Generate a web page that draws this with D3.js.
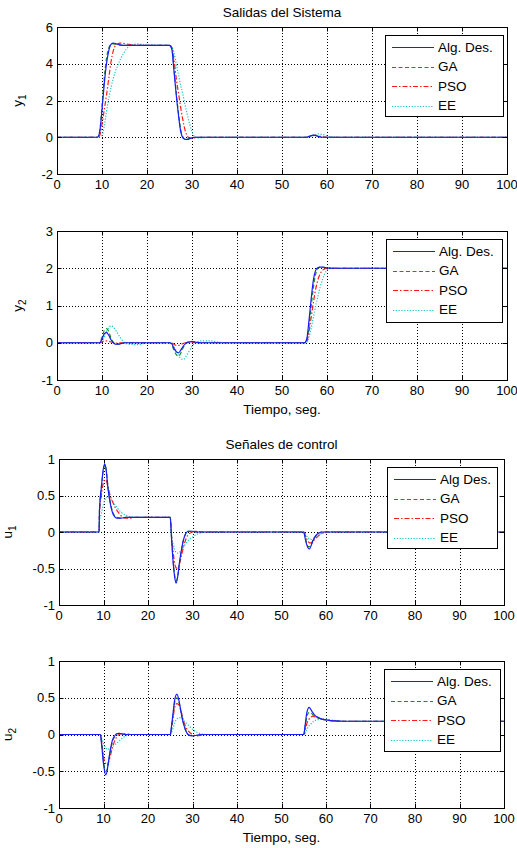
<!DOCTYPE html>
<html><head><meta charset="utf-8">
<script src="https://cdn.jsdelivr.net/npm/d3@7"></script>
<style>
html,body{margin:0;padding:0;background:#fff;}
svg{display:block;font-family:"Liberation Sans",Arial,sans-serif;}
</style></head>
<body>
<script>
// ---------- DATA ----------
const seriesNames = ["Alg. Des.", "GA", "PSO", "EE"];
const seriesNamesU1 = ["Alg Des.", "GA", "PSO", "EE"];
const xTicks = [0,10,20,30,40,50,60,70,80,90,100];
const yTicksY1 = [-2,0,2,4,6];
const yTicksY2 = [-1,0,1,2,3];
const yTicksU = [-1,-0.5,0,0.5,1];
const yTickLabelsU = ["-1","-0.5","0","0.5","1"];

// y1
const tY1 = [0,9,9.5,10,10.5,11,11.5,12,12.5,13,13.5,14,15,16,17,18,19,20,25,25.5,26,26.5,27,27.5,28,28.5,29,29.5,30,30.5,31,32,34,55.5,56,57,58,59,60,61,62,100];
const y1Alg = [0,0,0.3,1.5,2.9,4.0,4.7,5.05,5.12,5.1,5.06,5.03,5.0,5.0,5.0,5.0,5.0,5.0,5.0,4.8,3.6,2.3,1.2,0.3,-0.05,-0.12,-0.12,-0.08,-0.03,-0.01,0,0,0,0,0.05,0.12,0.05,0,0,0,0,0];
const y1GA  = [0,0,0.35,1.7,3.2,4.3,4.85,5.05,5.08,5.06,5.03,5.01,5.0,5.0,5.0,5.0,5.0,5.0,5.0,4.85,3.7,2.4,1.3,0.4,0,-0.1,-0.1,-0.06,-0.02,0,0,0,0,0,0.04,0.1,0.04,0,0,0,0,0];
const y1PSO = [0,0,0.1,0.7,1.5,2.3,3.2,4.1,4.7,5.0,5.08,5.12,5.1,5.05,5.02,5.0,5.0,5.0,5.0,4.9,4.2,3.2,2.4,1.6,0.9,0.35,0.05,-0.05,-0.05,-0.03,-0.02,0,0,0,0.03,0.1,0.08,0.03,0,0,0,0];
const y1EE  = [0,0,0.02,0.1,0.6,1.4,2.1,2.7,3.2,3.6,3.9,4.2,4.65,4.95,5.05,5.08,5.05,5.02,5.0,4.92,4.6,4.0,3.4,2.8,2.3,1.7,1.2,0.7,0.3,0.05,-0.03,-0.03,0,0,0.02,0.1,0.18,0.15,0.08,0.02,0,0];

// y2
const tY2 = [0,9.5,10,10.5,11,11.5,12,12.5,13,14,15,16,18,20,25,25.5,26,26.5,27,27.5,28,28.5,29,30,31,32,34,37,55,55.5,56,56.5,57,57.5,58,58.5,59,60,61,62,100];
const y2Alg = [0,0,0.1,0.24,0.28,0.2,0.08,0,-0.04,-0.03,0,0,0,0,0,-0.03,-0.15,-0.24,-0.27,-0.2,-0.1,-0.03,0.01,0.03,0.01,0,0,0,0,0.1,0.6,1.2,1.7,1.95,2.02,2.03,2.03,2.01,2,2,2];
const y2GA  = [0,0,0.15,0.33,0.38,0.3,0.12,0.02,-0.04,-0.04,0,0,0,0,0,-0.05,-0.2,-0.32,-0.36,-0.28,-0.14,-0.04,0.01,0.04,0.01,0,0,0,0,0.05,0.45,1.0,1.5,1.85,2.0,2.03,2.03,2.01,2,2,2];
const y2PSO = [0,0,0.02,0.05,0.05,0.04,0.02,0,-0.01,0,0,0,0,0,0,-0.01,-0.04,-0.07,-0.07,-0.05,-0.02,0,0,0.01,0,0,0,0,0,0.03,0.3,0.7,1.1,1.45,1.7,1.85,1.95,2.0,2.01,2,2];
const y2EE  = [0,0,0.05,0.15,0.3,0.4,0.45,0.42,0.34,0.15,0,-0.04,-0.05,0,0,-0.02,-0.1,-0.22,-0.34,-0.42,-0.45,-0.4,-0.3,-0.1,0.02,0.05,0.05,0,0,0.02,0.15,0.4,0.7,1.0,1.25,1.5,1.7,1.95,2.0,2.0,2];

// u1
const tU1 = [0,9,9.1,9.5,10,10.3,10.6,11,11.5,12,12.5,13,14,15,16,17,25,25.3,25.7,26,26.3,26.7,27,27.5,28,28.5,29,30,31,32,33,55,55.3,55.7,56,56.3,56.7,57,57.5,58,58.5,59,60,61,100];
const u1Alg = [0,0,0.3,0.6,0.88,0.93,0.85,0.6,0.4,0.27,0.21,0.19,0.19,0.2,0.2,0.2,0.2,-0.1,-0.45,-0.62,-0.7,-0.6,-0.45,-0.25,-0.1,-0.02,0.01,0.01,0,0,0,0,-0.08,-0.18,-0.22,-0.23,-0.18,-0.13,-0.07,-0.03,-0.01,0,0,0,0];
const u1GA  = [0,0,0.3,0.6,0.86,0.92,0.86,0.62,0.42,0.28,0.22,0.2,0.19,0.2,0.2,0.2,0.2,-0.08,-0.42,-0.6,-0.67,-0.6,-0.46,-0.26,-0.1,-0.02,0.01,0.01,0,0,0,0,-0.07,-0.16,-0.2,-0.2,-0.17,-0.12,-0.07,-0.03,-0.01,0,0,0,0];
const u1PSO = [0,0,0.25,0.5,0.68,0.72,0.71,0.62,0.5,0.42,0.35,0.3,0.22,0.19,0.19,0.2,0.2,-0.06,-0.3,-0.43,-0.49,-0.5,-0.45,-0.33,-0.2,-0.1,-0.04,0,0.01,0,0,0,-0.04,-0.1,-0.13,-0.15,-0.15,-0.13,-0.1,-0.07,-0.04,-0.02,0,0,0];
const u1EE  = [0,0,0.15,0.25,0.38,0.44,0.47,0.48,0.46,0.42,0.38,0.34,0.27,0.23,0.21,0.2,0.2,-0.05,-0.17,-0.24,-0.28,-0.29,-0.28,-0.25,-0.2,-0.16,-0.12,-0.07,-0.03,-0.01,0,0,-0.02,-0.06,-0.08,-0.1,-0.1,-0.09,-0.07,-0.05,-0.04,-0.02,-0.01,0,0];

// u2
const tU2 = [0,9.3,9.6,10,10.5,10.8,11,11.5,12,12.5,13,13.5,14,15,16,25,25.3,25.7,26,26.5,27,27.5,28,28.5,29,30,31,32,33,55,55.3,55.7,56.2,56.7,57,57.5,58,59,60,61,62,64,100];
const u2Alg = [0,0,-0.15,-0.4,-0.55,-0.5,-0.42,-0.22,-0.08,-0.02,0.01,0.015,0.01,0,0,0,0.12,0.33,0.47,0.55,0.45,0.28,0.14,0.05,0,-0.02,-0.01,0,0,0,0.12,0.3,0.37,0.33,0.3,0.26,0.24,0.21,0.2,0.19,0.185,0.18,0.18];
const u2GA  = [0,0,-0.13,-0.36,-0.5,-0.48,-0.42,-0.25,-0.1,-0.03,0.01,0.015,0.01,0,0,0,0.1,0.3,0.44,0.5,0.43,0.28,0.15,0.05,0,-0.02,-0.01,0,0,0,0.1,0.24,0.3,0.29,0.27,0.25,0.23,0.21,0.2,0.19,0.185,0.18,0.18];
const u2PSO = [0,0,-0.1,-0.3,-0.4,-0.42,-0.4,-0.3,-0.18,-0.09,-0.03,0,0.01,0.01,0,0,0.08,0.25,0.37,0.42,0.4,0.3,0.18,0.1,0.05,0,-0.02,-0.01,0,0,0.05,0.15,0.21,0.24,0.25,0.24,0.23,0.21,0.2,0.19,0.185,0.18,0.18];
const u2EE  = [0,0,-0.05,-0.12,-0.18,-0.2,-0.2,-0.19,-0.17,-0.14,-0.12,-0.09,-0.06,-0.02,0,0,0.03,0.1,0.16,0.21,0.23,0.22,0.19,0.16,0.13,0.07,0.03,0.01,0,0,0.02,0.07,0.12,0.15,0.17,0.19,0.2,0.21,0.21,0.2,0.19,0.18,0.18];

// ---------- STYLE ----------
const colors = ["#1a1aff", "#1a8f1a", "#ff1a1a", "#1ac4c4"];
const dashes = [null, "4,2.5", "5,2,1.5,2", "1.2,1.6"];

const W = 517, H = 848;
const svg = d3.select("body").append("svg").attr("width", W).attr("height", H);

const panels = [
  {box:[57,27,507,174], yDomain:[-2,6], yTicks:yTicksY1, yLabels:yTicksY1.map(String), t:tY1, ser:[y1Alg,y1GA,y1PSO,y1EE], names:seriesNames,
   title:"Salidas del Sistema", ylab:["y","1"], ylabX:22, xlab:null, legend:[385,35,118,81]},
  {box:[57,231,507,380], yDomain:[-1,3], yTicks:yTicksY2, yLabels:yTicksY2.map(String), t:tY2, ser:[y2Alg,y2GA,y2PSO,y2EE], names:seriesNames,
   title:null, ylab:["y","2"], ylabX:22, xlab:"Tiempo, seg.", legend:[386,239,116,83]},
  {box:[59,459,504,605], yDomain:[-1,1], yTicks:yTicksU, yLabels:yTickLabelsU, t:tU1, ser:[u1Alg,u1GA,u1PSO,u1EE], names:seriesNamesU1,
   title:"Señales de control", ylab:["u","1"], ylabX:12, xlab:null, legend:[387,467,110,81]},
  {box:[59,661,504,808], yDomain:[-1,1], yTicks:yTicksU, yLabels:yTickLabelsU, t:tU2, ser:[u2Alg,u2GA,u2PSO,u2EE], names:seriesNames,
   title:null, ylab:["u","2"], ylabX:12, xlab:"Tiempo, seg.", legend:[384,669,116,82]}
];

const FS = 13;
const FST = 13.5;

panels.forEach((p, pi) => {
  const [x0,y0,x1,y1] = p.box;
  const x = d3.scaleLinear().domain([0,100]).range([x0,x1]);
  const y = d3.scaleLinear().domain(p.yDomain).range([y1,y0]);
  const g = svg.append("g");

  // grid
  g.selectAll(null).data(xTicks.slice(1,-1)).join("line")
    .attr("x1", d=>Math.round(x(d))+0.5).attr("x2", d=>Math.round(x(d))+0.5).attr("y1", y0).attr("y2", y1)
    .attr("stroke","#000").attr("stroke-width",1).attr("stroke-dasharray","1,2");
  g.selectAll(null).data(p.yTicks.slice(1,-1)).join("line")
    .attr("y1", d=>Math.round(y(d))+0.5).attr("y2", d=>Math.round(y(d))+0.5).attr("x1", x0).attr("x2", x1)
    .attr("stroke","#000").attr("stroke-width",1).attr("stroke-dasharray","1,2");

  // clip
  const cid = "clip"+pi;
  svg.append("clipPath").attr("id",cid).append("rect").attr("x",x0).attr("y",y0).attr("width",x1-x0).attr("height",y1-y0);

  // lines (draw in reverse order so blue is on top)
  const line = d3.line().curve(d3.curveMonotoneX);
  const order = [3,2,1,0];
  order.forEach(si => {
    const pts = p.t.map((tv,i)=>[x(tv), y(p.ser[si][i])]);
    g.append("path").attr("d", line(pts)).attr("fill","none")
      .attr("stroke", colors[si]).attr("stroke-width",1.2)
      .attr("stroke-dasharray", dashes[si])
      .attr("clip-path","url(#"+cid+")");
  });

  // ticks inside, all sides
  const TL = 4.5;
  xTicks.forEach(d => {
    const xx = Math.round(x(d))+0.5;
    g.append("line").attr("x1",xx).attr("x2",xx).attr("y1",y1).attr("y2",y1-TL).attr("stroke","#000");
    g.append("line").attr("x1",xx).attr("x2",xx).attr("y1",y0).attr("y2",y0+TL).attr("stroke","#000");
  });
  p.yTicks.forEach(d => {
    const yy = Math.round(y(d))+0.5;
    g.append("line").attr("x1",x0).attr("x2",x0+TL).attr("y1",yy).attr("y2",yy).attr("stroke","#000");
    g.append("line").attr("x1",x1).attr("x2",x1-TL).attr("y1",yy).attr("y2",yy).attr("stroke","#000");
  });

  // box
  g.append("rect").attr("x",x0+0.5).attr("y",y0+0.5).attr("width",x1-x0).attr("height",y1-y0)
    .attr("fill","none").attr("stroke","#000").attr("stroke-width",1);

  // tick labels
  g.selectAll(null).data(xTicks).join("text")
    .attr("x", d=>x(d)).attr("y", y1+15).attr("text-anchor","middle")
    .attr("font-size",FS).attr("fill","#000").text(d=>String(d));
  g.selectAll(null).data(p.yTicks).join("text")
    .attr("x", x0-4).attr("y", d=>y(d)+4.5).attr("text-anchor","end")
    .attr("font-size",FS).attr("fill","#000").text((d,i)=>p.yLabels[i]);

  // y label
  const cy = (y0+y1)/2;
  const yl = g.append("text").attr("transform",`translate(${p.ylabX},${cy}) rotate(-90)`)
    .attr("text-anchor","middle").attr("font-size",FST).attr("fill","#000");
  yl.append("tspan").text(p.ylab[0]);
  yl.append("tspan").attr("font-size",10).attr("dy",4).text(p.ylab[1]);

  // title
  if (p.title) {
    g.append("text").attr("x",(x0+x1)/2).attr("y",y0-10).attr("text-anchor","middle")
      .attr("font-size",FST).attr("fill","#000").text(p.title);
  }
  if (p.xlab) {
    g.append("text").attr("x",(x0+x1)/2).attr("y",y1+34).attr("text-anchor","middle")
      .attr("font-size",FST).attr("fill","#000").text(p.xlab);
  }

  // legend
  const [lx,ly,lw,lh] = p.legend;
  const lg = g.append("g");
  lg.append("rect").attr("x",lx+0.5).attr("y",ly+0.5).attr("width",lw).attr("height",lh)
    .attr("fill","#fff").attr("stroke","#000").attr("stroke-width",1);
  p.names.forEach((nm, i) => {
    const ry = ly + 12 + i*19.6;
    lg.append("line").attr("x1",lx+7).attr("x2",lx+49).attr("y1",Math.round(ry)+0.5).attr("y2",Math.round(ry)+0.5)
      .attr("stroke",colors[i]).attr("stroke-width",1.2).attr("stroke-dasharray",dashes[i]);
    lg.append("text").attr("x",lx+53).attr("y",ry+4.5).attr("font-size",FST).attr("fill","#000").text(nm);
  });
});
</script>
</body></html>
